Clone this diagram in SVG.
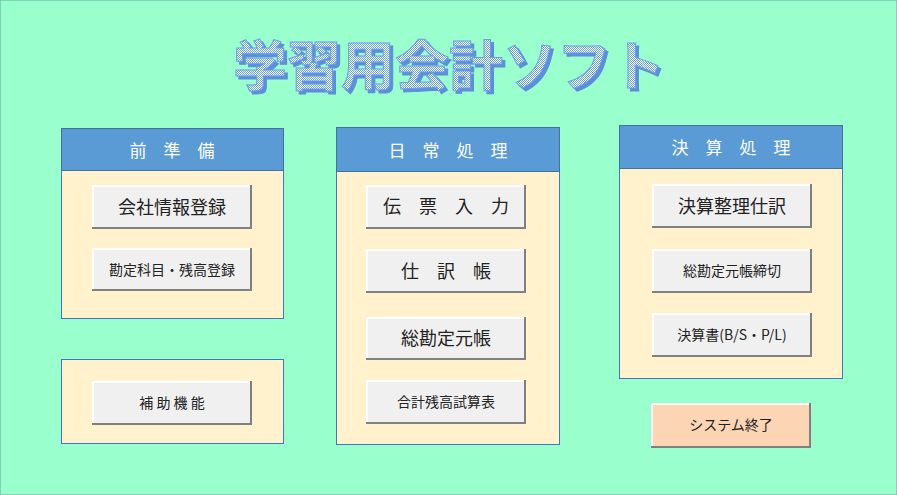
<svg xmlns="http://www.w3.org/2000/svg" width="897" height="495" viewBox="0 0 897 495">
<defs>
<pattern id="chk" width="2" height="2" patternUnits="userSpaceOnUse"><rect width="2" height="2" fill="#ffffff"/><rect width="1" height="1" fill="#6a9fe0"/><rect x="1" y="1" width="1" height="1" fill="#6a9fe0"/></pattern>
<filter id="ds" x="-5%" y="-20%" width="110%" height="140%"><feFlood flood-color="#5b8fd8"/><feComposite in2="SourceAlpha" operator="in"/><feOffset dx="3" dy="3" result="s"/><feMerge><feMergeNode in="s"/><feMergeNode in="SourceGraphic"/></feMerge></filter>
</defs>
<style>
text{font-family:"Noto Sans CJK JP","Noto Sans",sans-serif;text-anchor:middle;dominant-baseline:central}
.panel{fill:#fff2cc;stroke:#4472c4;stroke-width:1}
.head{fill:#5b9bd5;stroke:#41719c;stroke-width:1}
.ht{fill:#fff;font-size:17px}
.bf{fill:#f0f0f0}
.hl{stroke:#fff;stroke-width:2;fill:none}
.sh{stroke:#808080;stroke-width:2;fill:none}
.bt{fill:#222;font-size:18px}
.bs{fill:#222;font-size:14px}
</style>
<rect width="897" height="495" fill="#99ffcc" stroke="#6a9" stroke-width="1"/>
<g id="title">
<text x="449" y="62" font-size="54" font-weight="bold" fill="url(#chk)" stroke="#6a9fe0" stroke-width="1" filter="url(#ds)">学習用会計ソフト</text>
</g>
<g id="panel-prep"><rect class="panel" x="61.5" y="128.5" width="222" height="190"/><rect class="head" x="61.5" y="128.5" width="222" height="42"/><text class="ht" x="172" y="149">前　準　備</text></g>
<g id="panel-aux"><rect class="panel" x="61.5" y="359.5" width="222" height="84"/></g>
<g id="panel-daily"><rect class="panel" x="336.5" y="127.5" width="223" height="317"/><rect class="head" x="336.5" y="127.5" width="223" height="44"/><text class="ht" x="448" y="149">日　常　処　理</text></g>
<g id="panel-close"><rect class="panel" x="619.5" y="125.5" width="223" height="253"/><rect class="head" x="619.5" y="125.5" width="223" height="43"/><text class="ht" x="731" y="146">決　算　処　理</text></g>
<g id="b1"><rect class="bf" x="92" y="185" width="159" height="43"/><path class="hl" d="M93,228V186H251"/><path class="sh" d="M92,228H251V185"/><text class="bt" x="172" y="206">会社情報登録</text></g>
<g id="b2"><rect class="bf" x="92" y="248" width="159" height="42"/><path class="hl" d="M93,290V249H251"/><path class="sh" d="M92,290H251V248"/><text class="bs" x="172" y="269">勘定科目・残高登録</text></g>
<g id="b3"><rect class="bf" x="92" y="381" width="159" height="43"/><path class="hl" d="M93,424V382H251"/><path class="sh" d="M92,424H251V381"/><text class="bs" x="172" y="402">補 助 機 能</text></g>
<g id="b4"><rect class="bf" x="366" y="185" width="159" height="43"/><path class="hl" d="M367,228V186H525"/><path class="sh" d="M366,228H525V185"/><text class="bt" x="446" y="205">伝　票　入　力</text></g>
<g id="b5"><rect class="bf" x="366" y="249" width="159" height="43"/><path class="hl" d="M367,292V250H525"/><path class="sh" d="M366,292H525V249"/><text class="bt" x="446" y="270">仕　訳　帳</text></g>
<g id="b6"><rect class="bf" x="366" y="317" width="159" height="42"/><path class="hl" d="M367,359V318H525"/><path class="sh" d="M366,359H525V317"/><text class="bt" x="446" y="337">総勘定元帳</text></g>
<g id="b7"><rect class="bf" x="366" y="380" width="159" height="43"/><path class="hl" d="M367,423V381H525"/><path class="sh" d="M366,423H525V380"/><text class="bs" x="446" y="401">合計残高試算表</text></g>
<g id="b8"><rect class="bf" x="652" y="184" width="159" height="43"/><path class="hl" d="M653,227V185H811"/><path class="sh" d="M652,227H811V184"/><text class="bt" x="732" y="205">決算整理仕訳</text></g>
<g id="b9"><rect class="bf" x="652" y="249" width="159" height="43"/><path class="hl" d="M653,292V250H811"/><path class="sh" d="M652,292H811V249"/><text class="bs" x="732" y="270">総勘定元帳締切</text></g>
<g id="b10"><rect class="bf" x="652" y="313" width="159" height="43"/><path class="hl" d="M653,356V314H811"/><path class="sh" d="M652,356H811V313"/><text class="bs" x="732" y="334">決算書(B/S・P/L)</text></g>
<g id="b11"><rect fill="#fcd5b4" x="651" y="403" width="159" height="44"/><path class="hl" d="M652,447V404H810"/><path class="sh" d="M651,447H810V403"/><text class="bs" x="731" y="424">システム終了</text></g>
<g id="connectors"/>
</svg>
